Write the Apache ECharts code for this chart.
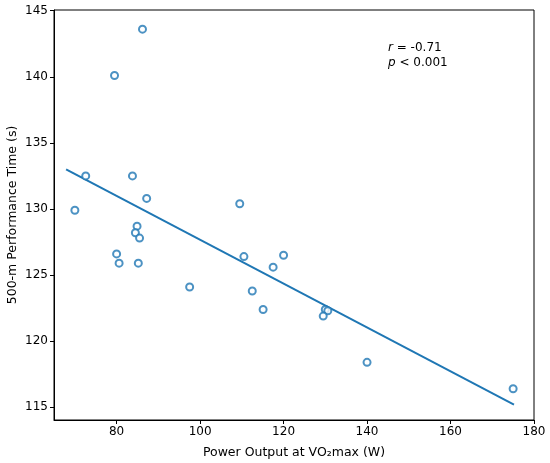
<!DOCTYPE html>
<html>
<head>
<meta charset="utf-8">
<script src="https://cdn.jsdelivr.net/npm/echarts@6/dist/echarts.min.js"></script>
<style>
  html, body { margin: 0; padding: 0; background: #fff; }
  #chart { width: 550px; height: 463px; }
</style>
</head>
<body>
<div id="chart"></div>
<script>
// power output at VO2max (W) and 500-m time (s)
var powerW = [86.2, 79.5, 72.6, 83.8, 87.2, 70.0, 109.5, 84.9, 84.5, 85.5, 80.0, 80.6,
              85.2, 97.5, 110.5, 120.0, 117.5, 112.5, 115.1, 130.0, 130.6, 129.5, 140.0, 175.0];
var timeS  = [143.6, 140.1, 132.5, 132.5, 130.8, 129.9, 130.4, 128.7, 128.2, 127.8, 126.6, 125.9,
              125.9, 124.1, 126.4, 126.5, 125.6, 123.8, 122.4, 122.4, 122.3, 121.9, 118.4, 116.4];
// regression line end points
var fitX = [67.9, 175.2];
var fitY = [133.0, 115.2];
var xTicks = [80, 100, 120, 140, 160, 180];
var yTicks = [115, 120, 125, 130, 135, 140, 145];

var blue = '#1f77b4';
var font = 'DejaVu Sans';

var pts = powerW.map(function (x, i) { return [x, timeS[i]]; });
var fit = fitX.map(function (x, i) { return [x, fitY[i]]; });

var chart = echarts.init(document.getElementById('chart'));
chart.setOption({
  animation: false,
  textStyle: { fontFamily: font },
  grid: {
    left: 54, right: 16, top: 10, bottom: 43,
    outerBoundsMode: 'none', containLabel: false,
    show: true, borderColor: '#000', borderWidth: 1
  },
  xAxis: {
    type: 'value', min: 65, max: 180,
    name: 'Power Output at VO\u2082max (W)',
    nameLocation: 'middle', nameGap: 26,
    nameTextStyle: { fontSize: 12.5, color: '#000', fontFamily: font },
    axisLine: { show: true, lineStyle: { color: '#000', width: 1 } },
    axisTick: { show: true, inside: false, length: 4, lineStyle: { color: '#000' }, customValues: xTicks },
    axisLabel: { fontSize: 12, color: '#000', margin: 6, customValues: xTicks },
    splitLine: { show: false }
  },
  yAxis: {
    type: 'value', min: 114.04, max: 145.05,
    name: '500-m Performance Time (s)',
    nameLocation: 'middle', nameGap: 35, nameRotate: 90,
    nameMoveOverlap: false,
    nameTextStyle: { fontSize: 12.5, color: '#000', fontFamily: font },
    axisLine: { show: true, lineStyle: { color: '#000', width: 1 } },
    axisTick: { show: true, inside: false, length: 4, lineStyle: { color: '#000' }, customValues: yTicks },
    axisLabel: { fontSize: 12, color: '#000', margin: 6, customValues: yTicks },
    splitLine: { show: false }
  },
  series: [
    {
      type: 'line',
      data: fit,
      showSymbol: false,
      lineStyle: { color: blue, width: 2 },
      z: 2
    },
    {
      type: 'scatter',
      data: pts,
      symbol: 'emptyCircle',
      symbolSize: 7,
      itemStyle: { color: blue, borderColor: blue, borderWidth: 1.3 },
      z: 3
    }
  ],
  graphic: [
    {
      type: 'text', left: 388, top: 40,
      style: {
        text: '{i|r} = -0.71\n{i|p} < 0.001',
        fill: '#000',
        font: '12px ' + font,
        lineHeight: 15,
        rich: { i: { fontStyle: 'italic', fontSize: 12, fontFamily: font } }
      }
    }
  ]
});
</script>
</body>
</html>
